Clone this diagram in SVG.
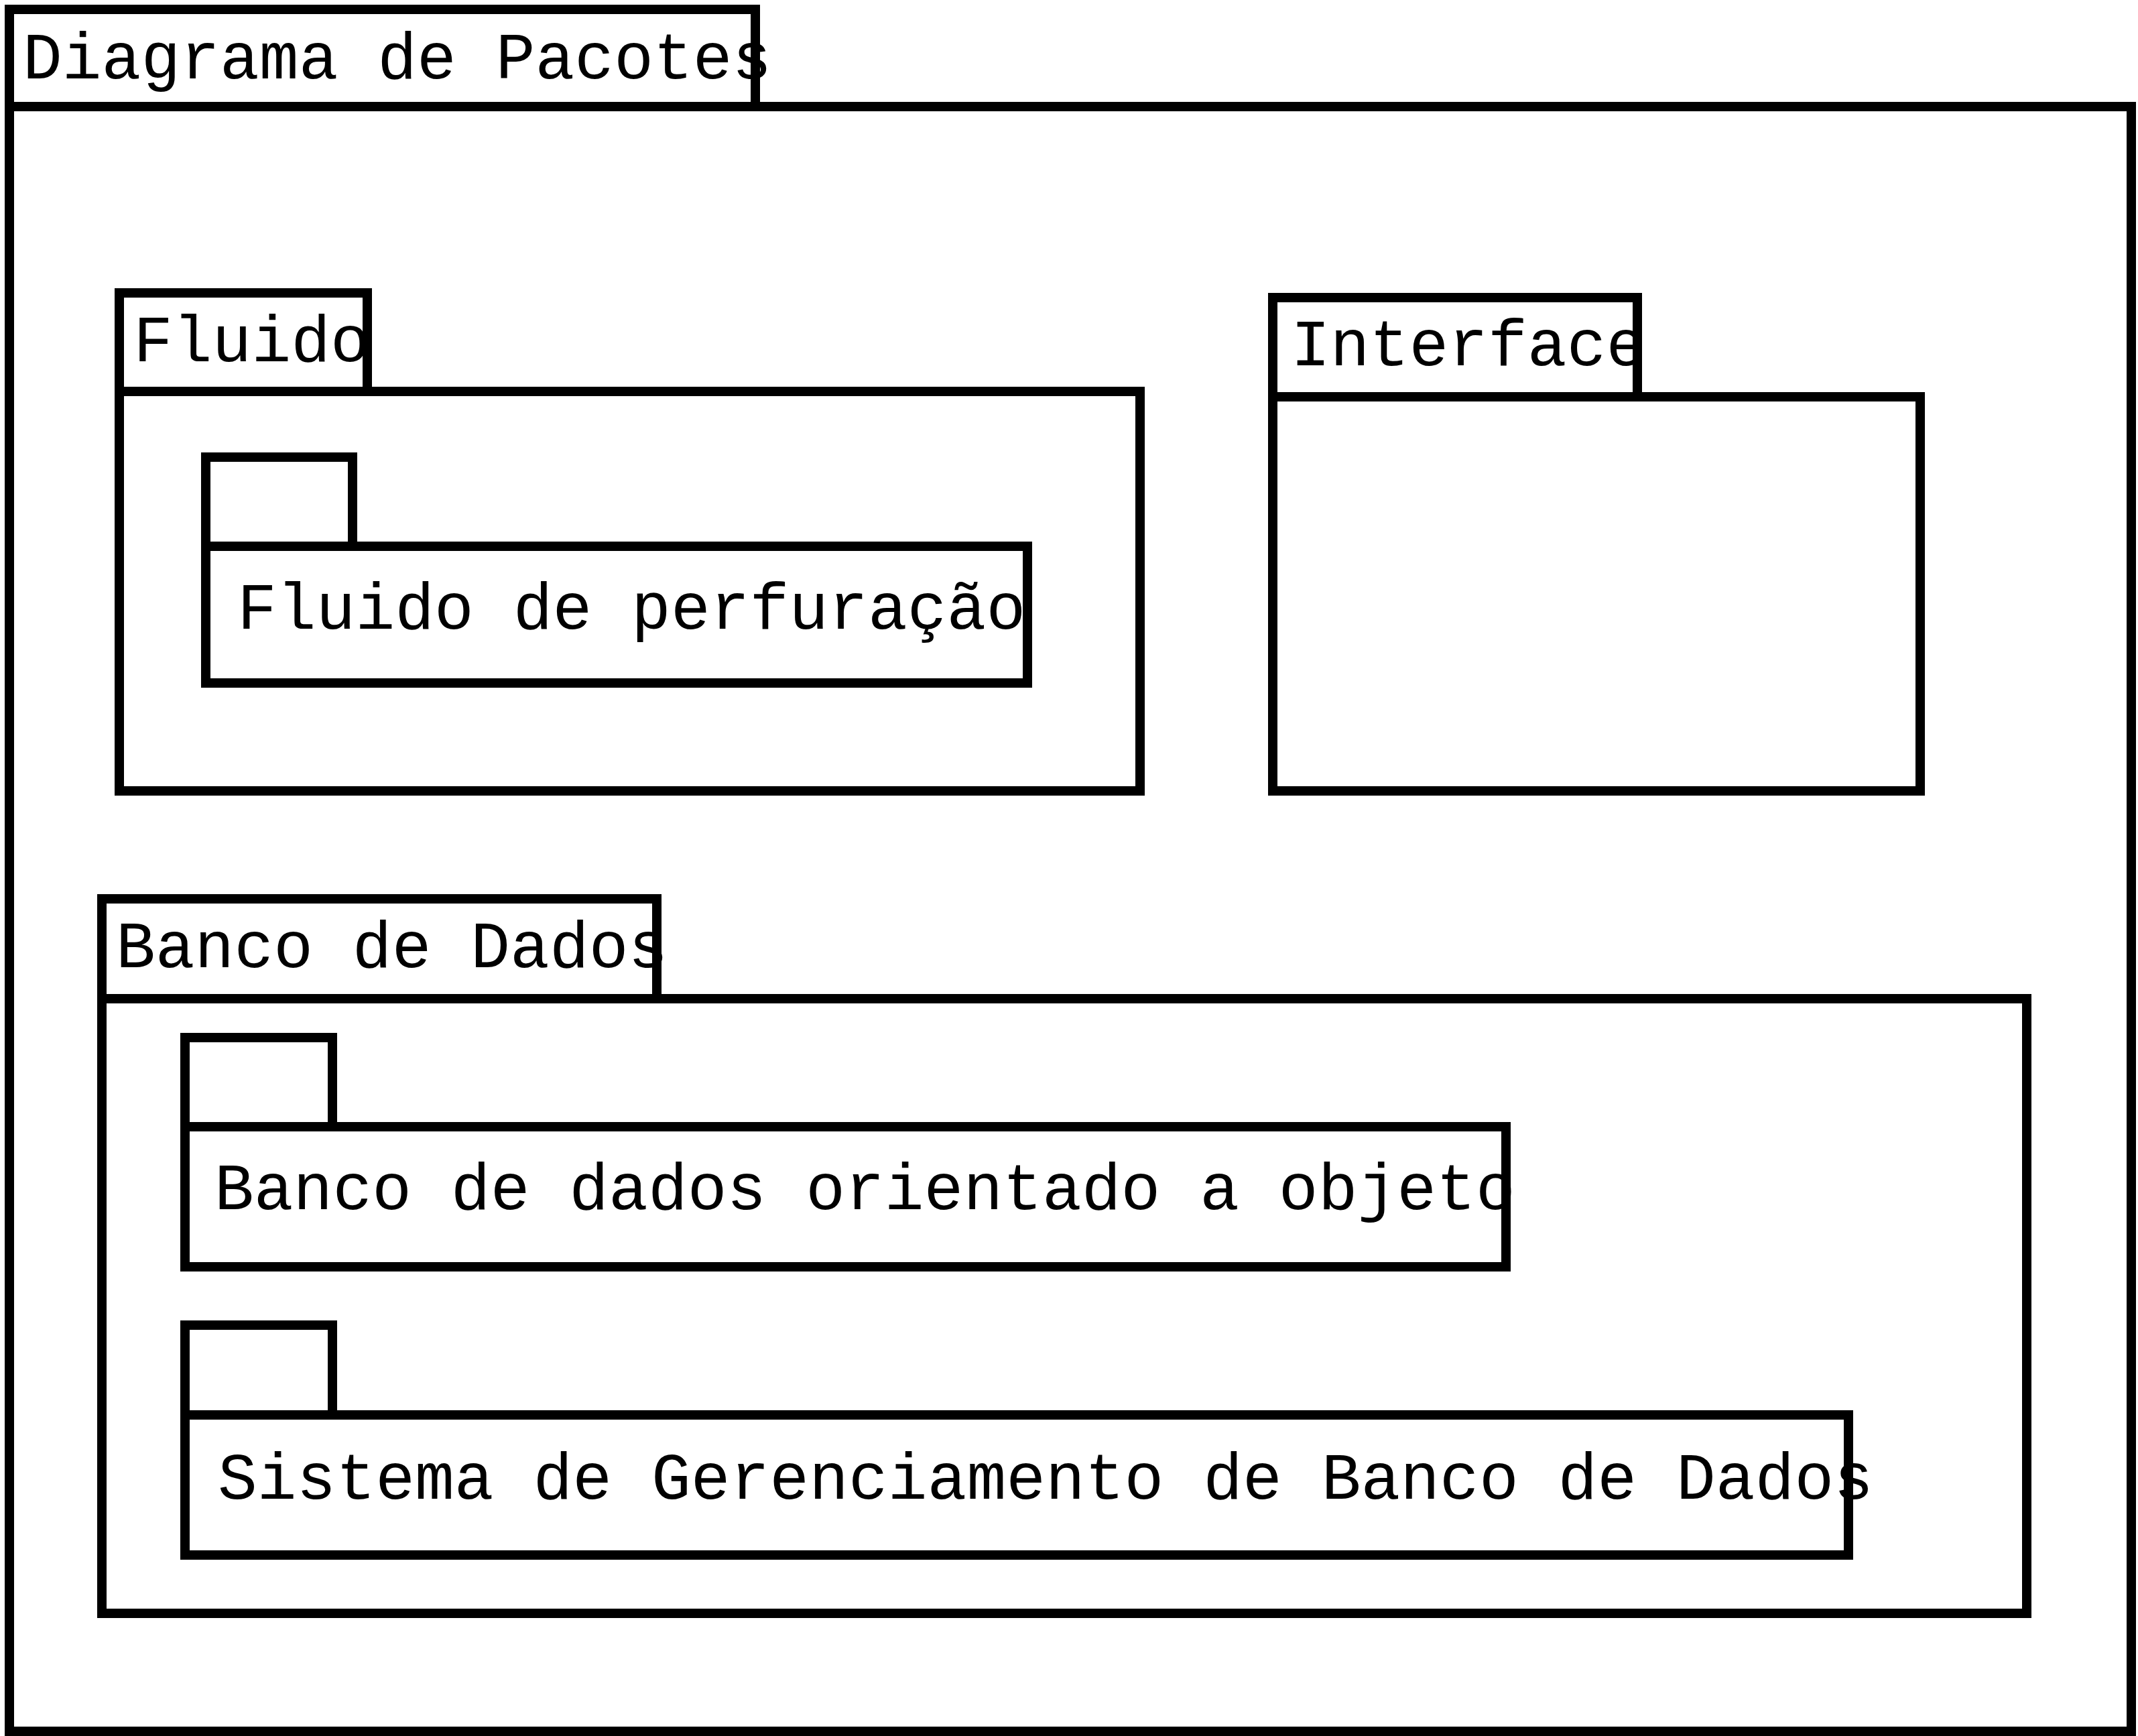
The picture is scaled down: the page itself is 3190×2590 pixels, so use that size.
<svg xmlns="http://www.w3.org/2000/svg" width="3190" height="2590" viewBox="0 0 3190 2590">
<style>
.b{fill:#fff;stroke:#000;stroke-width:14}
.t{font-family:"Liberation Mono","Courier New",monospace;font-size:98px;fill:#000}
</style>
<rect x="0" y="0" width="3190" height="2590" fill="#fff"/>
<g id="diagrama">
<rect class="b" x="14" y="159" width="3166" height="2424"/>
<rect class="b" x="14" y="14" width="1113" height="145"/>
<text class="t" x="34" y="117">Diagrama de Pacotes</text>
</g>
<g id="fluido">
<rect class="b" x="178" y="584" width="1523" height="596"/>
<rect class="b" x="178" y="437" width="370" height="147"/>
<text class="t" x="199" y="539">Fluido</text>
</g>
<g id="fluido-perfuracao">
<rect class="b" x="307" y="682" width="219" height="133"/>
<rect class="b" x="307" y="815" width="1226" height="204"/>
<text class="t" x="354" y="938">Fluido de perfuração</text>
</g>
<g id="interface">
<rect class="b" x="1899" y="592" width="966" height="588"/>
<rect class="b" x="1899" y="444" width="544" height="148"/>
<text class="t" x="1926" y="545">Interface</text>
</g>
<g id="banco-de-dados">
<rect class="b" x="152" y="1490" width="2872" height="917"/>
<rect class="b" x="152" y="1341" width="828" height="149"/>
<text class="t" x="173" y="1443">Banco de Dados</text>
</g>
<g id="bdoo">
<rect class="b" x="276" y="1548" width="220" height="133"/>
<rect class="b" x="276" y="1681" width="1971" height="209"/>
<text class="t" x="320" y="1804">Banco de dados orientado a objeto</text>
</g>
<g id="sgbd">
<rect class="b" x="276" y="1977" width="220" height="134"/>
<rect class="b" x="276" y="2111" width="2482" height="209"/>
<text class="t" x="325" y="2236">Sistema de Gerenciamento de Banco de Dados</text>
</g>
<g id="connectors"></g>
</svg>
